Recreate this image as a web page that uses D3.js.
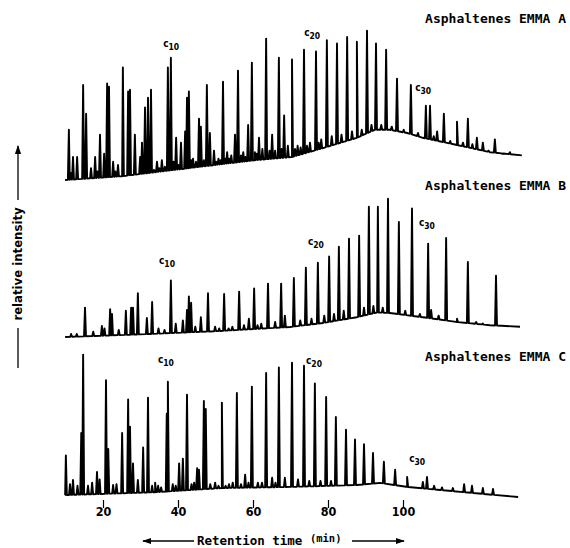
<!DOCTYPE html>
<html>
<head>
<meta charset="utf-8">
<script src="https://cdn.jsdelivr.net/npm/d3@7/dist/d3.min.js"></script>
<style>
    body { margin: 0; background: #fff; }
    svg { display: block; }
    .mono { font-family: "DejaVu Sans Mono", "Liberation Mono", monospace; font-weight: bold; fill: #000; }
    .cond { font-family: "DejaVu Sans Condensed", "DejaVu Sans", sans-serif; font-stretch: condensed; font-weight: bold; fill: #000; }
</style>
</head>
<body>
<div id="chart"></div>
<script>
// retention time (min) ticks
const xTicks = [20, 40, 60, 80, 100];
const titles = ['Asphaltenes EMMA A', 'Asphaltenes EMMA B', 'Asphaltenes EMMA C'];

// baseline [time, intensity]
const baselineA = [[9.9, 0.6], [25.1, 3], [42.7, 8], [60.5, 13], [70.4, 15], [78.7, 20.6], [87.7, 27], [92.5, 32], [96.5, 32], [101.1, 30], [105.3, 27], [114.4, 22.5], [123.2, 18], [131.7, 16]];
const baselineB = [[9.9, 0.6], [32.5, 2.5], [51.2, 4.4], [69.9, 6.9], [78.7, 9.4], [87.7, 13], [93.1, 16], [96.5, 15.6], [105.3, 13], [114.4, 10], [123.2, 8], [131.2, 7]];
const baselineC = [[9.9, 1.2], [33.9, 3], [51.7, 5.6], [69.9, 6.3], [87.7, 7.5], [93.9, 8.8], [101.1, 6.3], [109.9, 4.4], [118.7, 2.5], [130.7, 0]];

// peak apex [time, intensity]
const peaksA = [
    [10.9, 32], [11.4, 5], [12.0, 15], [13.1, 15], [14.7, 60], [15.5, 42], [16.8, 8], [17.9, 15], [18.5, 6], [19.2, 29], [20.3, 17],
    [21.1, 61], [21.6, 59], [22.7, 12], [23.3, 6], [24.0, 10], [25.3, 71], [26.7, 56], [27.2, 57], [28.5, 29], [29.9, 15],
    [30.4, 24], [31.2, 46], [32.0, 52], [32.8, 57], [33.6, 7], [34.4, 12], [35.0, 8], [35.7, 13], [36.5, 9], [37.3, 71], [38.1, 77], [38.8, 12], [39.5, 27],
    [40.1, 10], [40.8, 24], [41.9, 31], [42.4, 52], [42.9, 56], [43.5, 13], [44.0, 14], [44.8, 12], [45.6, 39], [46.1, 34], [46.9, 13], [47.7, 60], [48.5, 30],
    [49.6, 19], [50.2, 12], [50.8, 14], [51.4, 13], [52.0, 62], [52.6, 14], [53.1, 18], [53.7, 14], [54.2, 16], [55.2, 29], [56.0, 69], [56.8, 16], [57.4, 18], [58.0, 15], [58.7, 35],
    [59.7, 74], [60.5, 18], [61.0, 17], [61.6, 27], [62.5, 20], [63.5, 89], [64.4, 19], [65.1, 29], [65.9, 19], [66.9, 77], [67.6, 20], [68.3, 41], [69.3, 22],
    [70.4, 76], [71.2, 20], [71.9, 22], [72.7, 21], [73.6, 82], [74.4, 22], [75.2, 24], [76.8, 81], [77.5, 24], [78.2, 26], [79.7, 88], [81.0, 28], [82.4, 86],
    [83.6, 29], [85.1, 90], [86.4, 31], [87.7, 87], [89.0, 32], [90.4, 94], [91.6, 35], [92.8, 86], [94.2, 35], [95.5, 82], [97.0, 34], [98.4, 64], [100.2, 32], [102.1, 60], [104.0, 30], [106.1, 47],
    [107.2, 47], [108.2, 28], [109.1, 31], [110.9, 42], [112.6, 25], [114.4, 37], [116.0, 24], [117.3, 39], [118.5, 23], [119.7, 27], [121.3, 24], [122.8, 19], [124.5, 26], [126.5, 17], [128.5, 18]
];
const peaksB = [
    [11.5, 2.5], [13.0, 2.5], [15.2, 19], [17.4, 4], [19.7, 7.5], [20.4, 6], [21.9, 18], [22.4, 15], [24.2, 5],
    [26.1, 17], [27.5, 19], [28.0, 19], [29.3, 28], [31.7, 12.5], [33.1, 22.5], [34.8, 6], [36.4, 5], [38.1, 36],
    [39.4, 9], [41.3, 11], [42.4, 17.5], [42.9, 26], [43.5, 22], [44.6, 7], [46.1, 13], [48.0, 28], [49.9, 7], [51.0, 6], [52.3, 27.5],
    [53.5, 6], [54.5, 7], [56.3, 29], [57.6, 8], [58.9, 12], [60.3, 31], [61.2, 8], [62.2, 9], [64.0, 34], [65.9, 10], [67.5, 34],
    [68.5, 14], [70.9, 37.5], [72.6, 11], [74.1, 44], [75.6, 12], [77.3, 47], [79.0, 14], [80.3, 51], [81.6, 15], [82.9, 57], [84.2, 17], [85.6, 62],
    [88.3, 64], [89.6, 19], [90.9, 82], [92.1, 20], [93.3, 82], [94.6, 19], [96.0, 87], [98.9, 72.5], [100.6, 17], [102.4, 81], [104.5, 15], [106.7, 59],
    [107.5, 17.5], [109.5, 14], [111.5, 62.5], [114.4, 12], [117.3, 47.5], [119.5, 10], [121.3, 9], [124.8, 39]
];
const peaksC = [
    [10.1, 26], [11.2, 8], [12.0, 10.6], [13.2, 7], [14.2, 40], [14.7, 89], [16.0, 7], [17.1, 9], [18.4, 15.6],
    [19.1, 11], [20.8, 73], [21.4, 30], [22.7, 7.5], [23.6, 8], [25.1, 40], [26.7, 61], [27.2, 44], [28.0, 21], [29.3, 10.6],
    [30.7, 31], [32.0, 62], [33.1, 7], [33.9, 9], [34.7, 7], [35.5, 6], [37.0, 52], [37.3, 72], [38.6, 8], [39.4, 7], [40.3, 21], [41.3, 24],
    [42.4, 64], [43.6, 8], [44.3, 9], [45.1, 18], [45.6, 17], [46.9, 60], [47.4, 55], [48.6, 8], [49.9, 9], [50.8, 7], [51.7, 59], [52.7, 7], [53.6, 8],
    [54.6, 9], [55.7, 65], [56.8, 8], [57.9, 14], [58.8, 9], [59.7, 69], [61.3, 9], [62.4, 9], [63.5, 77.5], [65.1, 12], [66.0, 9], [66.9, 81], [68.5, 12], [70.4, 84],
    [72.0, 11], [73.6, 82], [75.0, 10], [76.5, 71], [78.0, 10], [79.5, 62.5], [80.8, 10], [82.1, 50], [84.8, 42], [87.2, 36],
    [89.6, 33], [92.0, 27.5], [94.9, 22], [97.9, 17], [101.1, 12.5], [105.3, 9.4], [106.4, 12.5], [108.3, 7],
    [110.4, 6], [113.3, 5.6], [116.3, 8], [118.4, 7], [121.3, 5.6], [124.0, 5]
];

// carbon number labels [text, time, intensity]
const labelsA = [['10', 37.1, 84], ['20', 74.7, 90.6], ['30', 104.3, 56]];
const labelsB = [['10', 36.0, 46], ['20', 75.7, 58], ['30', 105.3, 70]];
const labelsC = [['10', 35.7, 84], ['20', 75.2, 83], ['30', 102.7, 22]];

const W = 570, H = 548;
const peakHalf = 0.26;

const panels = [
    { title: titles[0], titleY: 23, zero: 181, base: baselineA, peaks: peaksA, labels: labelsA },
    { title: titles[1], titleY: 190, zero: 338, base: baselineB, peaks: peaksB, labels: labelsB },
    { title: titles[2], titleY: 361, zero: 497, base: baselineC, peaks: peaksC, labels: labelsC }
];

const svg = d3.select('#chart').append('svg')
    .attr('width', W)
    .attr('height', H);

const x = d3.scaleLinear().domain([20, 100]).range([103, 403]);

function tracePoints(base, peaks) {
    const baseAt = d3.scaleLinear()
        .domain(base.map(d => d[0]))
        .range(base.map(d => d[1]))
        .clamp(true);
    const pts = base.map(d => [d[0], d[1]]);
    peaks.forEach(p => {
        pts.push([p[0] - peakHalf, baseAt(p[0] - peakHalf)]);
        pts.push([p[0], p[1]]);
        pts.push([p[0] + peakHalf, baseAt(p[0] + peakHalf)]);
    });
    return pts.sort((a, b) => a[0] - b[0]);
}

panels.forEach(p => {
    const y = d3.scaleLinear().domain([0, 100]).range([p.zero, p.zero - 160]);
    const line = d3.line().x(d => x(d[0])).y(d => y(d[1]));

    svg.append('path')
        .datum(tracePoints(p.base, p.peaks))
        .attr('d', line)
        .attr('fill', 'none')
        .attr('stroke', '#000')
        .attr('stroke-width', 1.9)
        .attr('stroke-linejoin', 'round');

    const lab = svg.selectAll(null)
        .data(p.labels)
        .join('text')
        .attr('class', 'cond')
        .attr('x', d => x(d[1]) - 4)
        .attr('y', d => y(d[2]))
        .attr('font-size', 10);
    lab.append('tspan').text('c');
    lab.append('tspan')
        .attr('dy', 3)
        .attr('font-size', 8.5)
        .text(d => d[0]);

    svg.append('text')
        .attr('class', 'mono')
        .attr('x', 566)
        .attr('y', p.titleY)
        .attr('text-anchor', 'end')
        .attr('font-size', 13)
        .text(p.title);
});

// x axis: ticks + numbers only
const axis = svg.append('g')
    .attr('transform', 'translate(0,500)')
    .call(d3.axisBottom(x).tickValues(xTicks).tickSize(8).tickPadding(-1).tickFormat(d3.format('d')));
axis.select('.domain').remove();
axis.selectAll('.tick line').attr('stroke', '#000').attr('stroke-width', 1.2);
axis.selectAll('.tick text')
    .attr('class', 'cond')
    .attr('font-size', 12.5)
    .attr('fill', '#000');

// axis titles with arrows
svg.append('defs').append('marker')
    .attr('id', 'arrow')
    .attr('viewBox', '0 0 10 10')
    .attr('refX', 9).attr('refY', 5)
    .attr('markerWidth', 7).attr('markerHeight', 7)
    .attr('orient', 'auto-start-reverse')
    .append('path')
    .attr('d', 'M0,1.5 L10,5 L0,8.5 Z')
    .attr('fill', '#000');

const bottomTitle = svg.append('text')
    .attr('class', 'mono')
    .attr('x', 197)
    .attr('y', 545)
    .attr('font-size', 12.5);
bottomTitle.append('tspan').text('Retention time ');
bottomTitle.append('tspan').attr('dy', -3).attr('font-size', 10.5).text('(min)');

svg.append('line')
    .attr('x1', 194).attr('x2', 143).attr('y1', 541).attr('y2', 541)
    .attr('stroke', '#000').attr('stroke-width', 1.3)
    .attr('marker-end', 'url(#arrow)');
svg.append('line')
    .attr('x1', 352).attr('x2', 404).attr('y1', 541).attr('y2', 541)
    .attr('stroke', '#000').attr('stroke-width', 1.3)
    .attr('marker-end', 'url(#arrow)');

svg.append('text')
    .attr('class', 'cond')
    .attr('transform', 'translate(22,264) rotate(-90)')
    .attr('text-anchor', 'middle')
    .attr('font-size', 13)
    .text('relative intensity');
svg.append('line')
    .attr('x1', 18).attr('x2', 18).attr('y1', 200).attr('y2', 146)
    .attr('stroke', '#000').attr('stroke-width', 1.3)
    .attr('marker-end', 'url(#arrow)');
svg.append('line')
    .attr('x1', 18).attr('x2', 18).attr('y1', 328).attr('y2', 368)
    .attr('stroke', '#000').attr('stroke-width', 1.3);
</script>
</body>
</html>
